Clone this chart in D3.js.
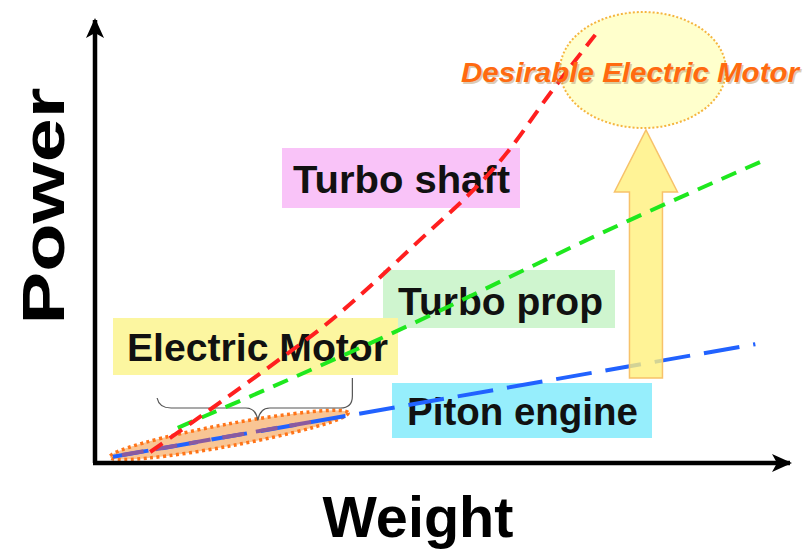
<!DOCTYPE html>
<html>
<head>
<meta charset="utf-8">
<script src="https://cdn.jsdelivr.net/npm/d3@7"></script>
<style>
  body { margin: 0; background: #fff; }
  text { font-family: "Liberation Sans", Arial, sans-serif; font-weight: bold; }
</style>
</head>
<body>
<script>
// data (weight / power in arbitrary units 0..100)
var shaftWeight = [8, 17, 26, 33, 46, 60, 66, 72.5];
var shaftPower = [2.5, 12.5, 22.7, 30.9, 49.1, 71.1, 84.1, 97.3];
var propWeight = [12, 40, 77.5, 97.1];
var propPower = [8, 27.3, 55.2, 68.9];
var pistonWeight = [2.6, 95.7];
var pistonPower = [1.4, 27.0];
var electricWeight = [3.9, 32.3];
var electricPower = [1.8, 9.6];
var labels = ["Turbo shaft", "Turbo prop", "Electric Motor", "Piton engine"];
var axisNames = ["Weight", "Power"];
var goalName = "Desirable Electric Motor";

var width = 805, height = 550;
var x = d3.scaleLinear().domain([0, 100]).range([95, 785]);
var y = d3.scaleLinear().domain([0, 100]).range([463, 23]);

var svg = d3.select("body").append("svg").attr("width", width).attr("height", height);

svg.append("defs").append("marker")
  .attr("id", "head")
  .attr("markerUnits", "userSpaceOnUse")
  .attr("viewBox", "0 0 20 20")
  .attr("refX", 18).attr("refY", 10)
  .attr("markerWidth", 20).attr("markerHeight", 20)
  .attr("orient", "auto")
  .append("path")
  .attr("d", "M0,1 L20,10 L0,19 L5,10 Z")
  .attr("fill", "#000");

function zip(a, b) { return a.map(function (v, i) { return [v, b[i]]; }); }

// label boxes
var boxes = [
  { x: 282, y: 148, w: 238, h: 60, fill: "#f9c3f8", tx: 293, ty: 193, len: 217 },
  { x: 383, y: 270, w: 232, h: 58, fill: "#cff5cf", tx: 398, ty: 315, len: 205 },
  { x: 113, y: 318, w: 285, h: 57, fill: "#fcf6a0", tx: 127, ty: 361, len: 261 },
  { x: 392, y: 383, w: 260, h: 55, fill: "#96eefc", tx: 407, ty: 425, len: 231 }
];
boxes.forEach(function (b, i) {
  svg.append("rect").attr("x", b.x).attr("y", b.y).attr("width", b.w).attr("height", b.h).attr("fill", b.fill);
  svg.append("text").attr("x", b.tx).attr("y", b.ty)
    .attr("font-size", 38).attr("fill", "#111")
    .attr("textLength", b.len).attr("lengthAdjust", "spacingAndGlyphs")
    .text(labels[i]);
});

// desirable goal ellipse
svg.append("ellipse")
  .attr("cx", 643).attr("cy", 70).attr("rx", 83).attr("ry", 58)
  .attr("fill", "#ffffcc").attr("stroke", "#f5b540")
  .attr("stroke-width", 2).attr("stroke-dasharray", "2 2");

// electric motor region (orange ellipse)
var e0 = [x(electricWeight[0]) - 12, y(electricPower[0]) + 2];
var e1 = [x(36.7), y(11.4)];
var ecx = (e0[0] + e1[0]) / 2, ecy = (e0[1] + e1[1]) / 2;
var ang = Math.atan2(e1[1] - e0[1], e1[0] - e0[0]) * 180 / Math.PI;
var erx = Math.hypot(e1[0] - e0[0], e1[1] - e0[1]) / 2;
svg.append("ellipse")
  .attr("cx", 0).attr("cy", 0).attr("rx", erx).attr("ry", 11)
  .attr("transform", "translate(" + ecx + "," + ecy + ") rotate(" + ang + ")")
  .attr("fill", "#f9c594").attr("stroke", "#ff7418")
  .attr("stroke-width", 3.5).attr("stroke-dasharray", "3 3.5");

var line = d3.line().x(function (d) { return x(d[0]); }).y(function (d) { return y(d[1]); });
var curve = d3.line().curve(d3.curveMonotoneX).x(function (d) { return x(d[0]); }).y(function (d) { return y(d[1]); });

svg.append("path").datum(zip(pistonWeight, pistonPower)).attr("d", line)
  .attr("fill", "none").attr("stroke", "#2162ff").attr("stroke-width", 4)
  .attr("stroke-dasharray", "36 14");
svg.append("path").datum(zip(electricWeight, electricPower)).attr("d", line)
  .attr("fill", "none").attr("stroke", "#8a5aa0").attr("stroke-width", 4)
  .attr("stroke-dasharray", "22 12");

// brace over electric motor range
var bl = x(9), br = x(37.3), bc = x(23.6), by = y(12.5), bt = y(9.7);
svg.append("path")
  .attr("d", "M" + bl + "," + (by - 10) + " Q" + (bl + 2) + "," + by + " " + (bl + 14) + "," + by +
    " L" + (bc - 12) + "," + by + " Q" + (bc - 2) + "," + by + " " + bc + "," + bt +
    " Q" + (bc + 2) + "," + by + " " + (bc + 12) + "," + by +
    " L" + (br - 12) + "," + by + " Q" + br + "," + by + " " + br + "," + (by - 12) +
    " L" + br + "," + (by - 30))
  .attr("fill", "none").attr("stroke", "#555").attr("stroke-width", 1.2);

// yellow improvement arrow
var ax = x(79.85), ab = y(19.3), at = y(75.7);
svg.append("path")
  .attr("d", "M" + (ax - 16.5) + "," + ab + " L" + (ax - 16.5) + "," + (at + 62) +
    " L" + (ax - 31.5) + "," + (at + 62) + " L" + ax + "," + at +
    " L" + (ax + 31.5) + "," + (at + 62) + " L" + (ax + 16.5) + "," + (at + 62) +
    " L" + (ax + 16.5) + "," + ab + " Z")
  .attr("fill", "#fff07c").attr("fill-opacity", 0.8)
  .attr("stroke", "#f7c26a").attr("stroke-width", 1.5);

svg.append("path").datum(zip(propWeight, propPower)).attr("d", curve)
  .attr("fill", "none").attr("stroke", "#1ee81e").attr("stroke-width", 4)
  .attr("stroke-dasharray", "16 10");
svg.append("path").datum(zip(shaftWeight, shaftPower)).attr("d", curve)
  .attr("fill", "none").attr("stroke", "#ff1f1f").attr("stroke-width", 4)
  .attr("stroke-dasharray", "15 9");

// axes
svg.append("line").attr("x1", x(0)).attr("y1", y(0)).attr("x2", x(0)).attr("y2", y(100) - 3)
  .attr("stroke", "#000").attr("stroke-width", 4.5).attr("marker-end", "url(#head)");
svg.append("line").attr("x1", x(0) - 2).attr("y1", y(0)).attr("x2", x(100) + 5).attr("y2", y(0))
  .attr("stroke", "#000").attr("stroke-width", 4.5).attr("marker-end", "url(#head)");

svg.append("text").attr("x", 418).attr("y", 537).attr("text-anchor", "middle")
  .attr("font-size", 58).attr("fill", "#000")
  .attr("textLength", 191).attr("lengthAdjust", "spacingAndGlyphs")
  .text(axisNames[0]);
svg.append("text").attr("transform", "translate(64,206) rotate(-90)").attr("text-anchor", "middle")
  .attr("font-size", 60).attr("fill", "#000")
  .attr("textLength", 237).attr("lengthAdjust", "spacingAndGlyphs")
  .text(axisNames[1]);

// goal label
svg.append("text").attr("x", 462.5).attr("y", 83.5)
  .attr("font-size", 28).attr("font-style", "italic").attr("fill", "#b89a70").attr("opacity", 0.5)
  .attr("textLength", 338).attr("lengthAdjust", "spacingAndGlyphs")
  .text(goalName);
svg.append("text").attr("x", 461).attr("y", 82)
  .attr("font-size", 28).attr("font-style", "italic").attr("fill", "#ff6a10")
  .attr("textLength", 338).attr("lengthAdjust", "spacingAndGlyphs")
  .text(goalName);
</script>
</body>
</html>
